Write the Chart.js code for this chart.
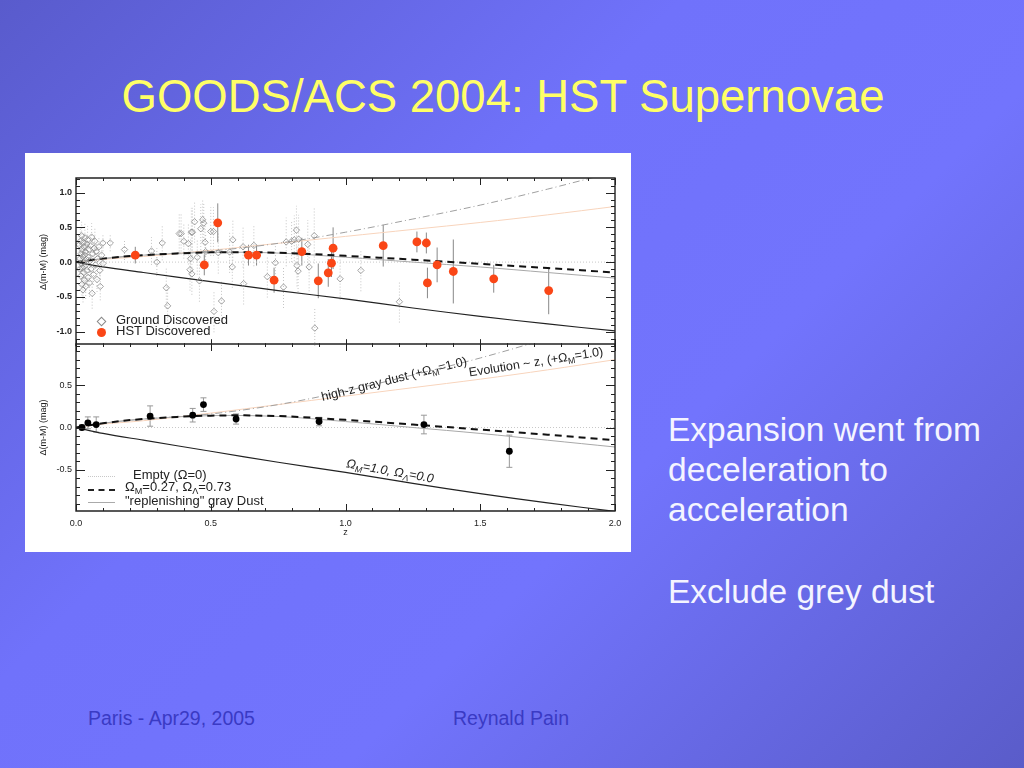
<!DOCTYPE html>
<html>
<head>
<meta charset="utf-8">
<script src="https://cdn.jsdelivr.net/npm/chart.js@4.4.0/dist/chart.umd.min.js"></script>
<style>
  html, body { margin: 0; padding: 0; }
  #slide {
    position: relative; width: 1024px; height: 768px; overflow: hidden;
    background: linear-gradient(135deg, #595bcc 0%, #7072fb 38%, #7274fd 62%, #5a5cc9 100%);
    font-family: "Liberation Sans", Arial, Helvetica, sans-serif;
  }
  .abs { position: absolute; white-space: nowrap; }
  #title { left: 0; width: 1006px; top: 70px; text-align: center; color: #ffff66; font-size: 45.5px; line-height: 54px; }
  #panel { left: 25px; top: 153px; width: 606px; height: 399px; background: #fff; }
  #topChart { position: absolute; left: 25px; top: 153px; }
  #bottomChart { position: absolute; left: 25px; top: 340px; }
  .side { left: 668px; color: #f4f4ff; font-size: 33.5px; line-height: 40px; }
  .foot { top: 706px; color: #3a3ac4; font-size: 19.5px; line-height: 24px; }
  .leg { font-size: 13px; line-height: 14px; color: #222; }
  .note { font-size: 12.5px; color: #222; transform-origin: center; }
  sub { font-size: 70%; vertical-align: -3px; line-height: 0; }
  .diamond { width: 5px; height: 5px; border: 1px solid #888; background: #fff; transform: rotate(45deg); }
  .dot { width: 9px; height: 9px; border-radius: 50%; background: #fa4616; }
</style>
</head>
<body>
<div id="slide">
  <div id="title" class="abs">GOODS/ACS 2004: HST Supernovae</div>
  <div id="panel" class="abs"></div>
  <canvas id="topChart" width="606" height="198"></canvas>
  <canvas id="bottomChart" width="606" height="212"></canvas>

  <div class="abs diamond" style="left:98px; top:318px;"></div>
  <div class="abs leg" style="left:116px; top:313px;">Ground Discovered</div>
  <div class="abs dot" style="left:97px; top:328px;"></div>
  <div class="abs leg" style="left:116px; top:324px;">HST Discovered</div>

  <div class="abs" style="left:88px; top:476px; width:27px; border-top:1px dotted #c8c8c8;"></div>
  <div class="abs" style="left:88px; top:489px; width:27px; border-top:2px dashed #222;"></div>
  <div class="abs" style="left:88px; top:502px; width:27px; border-top:1px solid #aaa;"></div>
  <div class="abs leg" style="left:133px; top:468px;">Empty (&Omega;=0)</div>
  <div class="abs leg" style="left:125px; top:480px;">&Omega;<sub>M</sub>=0.27, &Omega;<sub>&Lambda;</sub>=0.73</div>
  <div class="abs leg" style="left:125px; top:494px;">"replenishing" gray Dust</div>

  <div class="abs note" style="left:394px; top:379px; transform: translate(-50%,-50%) rotate(-14deg);">high-z gray dust (+&Omega;<sub>M</sub>=1.0)</div>
  <div class="abs note" style="left:536px; top:362px; transform: translate(-50%,-50%) rotate(-9deg);">Evolution ~ z, (+&Omega;<sub>M</sub>=1.0)</div>
  <div class="abs note" style="left:390px; top:471px; font-style: italic; transform: translate(-50%,-50%) rotate(10deg);">&Omega;<sub>M</sub>=1.0, &Omega;<sub>&Lambda;</sub>=0.0</div>

  <div class="abs side" style="top:410px;">Expansion went from<br>deceleration to<br>acceleration</div>
  <div class="abs side" style="top:572px;">Exclude grey dust</div>

  <div class="abs foot" style="left:88px;">Paris - Apr29, 2005</div>
  <div class="abs foot" style="left:453px;">Reynald Pain</div>
</div>

<script>
// ground discovered SNe (low-z cluster first, then the rest)
const groundZ = [
  0.012,0.014,0.015,0.016,0.018,0.019,0.02,0.021,0.022,0.023,
  0.024,0.025,0.026,0.027,0.028,0.029,0.03,0.031,0.032,0.033,
  0.034,0.035,0.036,0.038,0.04,0.041,0.043,0.045,0.046,0.048,
  0.05,0.052,0.054,0.056,0.058,0.06,0.062,0.065,0.068,0.07,
  0.072,0.075,0.078,0.08,0.085,0.088,0.09,0.095,0.1,
  0.10,0.127,0.18,0.28,0.30,0.32,0.335,0.34,0.383,0.39,
  0.40,0.417,0.423,0.428,0.432,0.43,0.425,0.44,0.45,0.458,
  0.463,0.47,0.474,0.479,0.481,0.50,0.51,0.512,0.528,0.54,
  0.57,0.58,0.582,0.62,0.622,0.66,0.71,0.74,0.77,0.78,
  0.80,0.81,0.818,0.82,0.824,0.826,0.86,0.865,0.886,0.884,
  0.98,1.057,1.20
];
const groundDm = [
  0.25,-0.10,0.05,0.30,-0.20,0.12,-0.02,0.38,-0.32,0.18,
  -0.08,0.08,-0.40,0.28,0.0,-0.15,0.22,-0.26,0.10,0.35,
  -0.05,0.15,-0.35,0.04,0.26,-0.12,0.32,-0.22,0.07,0.18,
  -0.30,0.02,0.24,-0.10,0.36,-0.45,0.12,-0.18,0.20,0.30,
  -0.04,0.15,-0.25,0.05,0.22,-0.12,-0.35,0.10,-0.02,
  0.275,0.275,0.18,0.16,0.0,0.275,-0.37,-0.63,0.41,0.41,
  0.30,0.265,-0.11,0.43,0.43,-0.17,0.05,0.58,0.07,-0.27,
  0.48,0.61,0.56,0.285,0.15,0.44,0.44,-0.71,0.135,-0.56,
  0.145,-0.07,0.32,0.22,-0.31,0.24,-0.21,-0.01,-0.36,0.29,
  0.30,0.32,0.46,-0.05,-0.13,0.33,0.255,-0.07,-0.95,0.38,
  -0.24,-0.12,-0.57
];
const groundErr = [
  0.15,0.12,0.10,0.18,0.14,0.12,0.10,0.20,0.16,0.12,
  0.10,0.10,0.18,0.15,0.10,0.12,0.14,0.16,0.10,0.20,
  0.10,0.12,0.18,0.10,0.14,0.12,0.20,0.15,0.10,0.12,
  0.20,0.10,0.15,0.12,0.20,0.22,0.12,0.15,0.14,0.18,
  0.10,0.12,0.18,0.10,0.15,0.12,0.20,0.12,0.10,
  0.12,0.12,0.15,0.2,0.2,0.25,0.3,0.3,0.3,0.3,
  0.25,0.3,0.3,0.35,0.35,0.3,0.3,0.3,0.25,0.3,
  0.35,0.3,0.3,0.3,0.25,0.35,0.35,0.3,0.3,0.3,
  0.3,0.3,0.3,0.3,0.3,0.3,0.3,0.25,0.3,0.35,
  0.3,0.35,0.35,0.3,0.3,0.35,0.35,0.35,0.3,0.4,
  0.3,0.3,0.3
];

// HST discovered SNe
const hstZ   = [0.22,0.476,0.526,0.64,0.67,0.735,0.838,0.899,0.936,0.948,0.954,1.14,1.265,1.30,1.304,1.34,1.40,1.55,1.754];
const hstDm  = [0.10,-0.04,0.565,0.10,0.10,-0.26,0.15,-0.27,-0.155,-0.015,0.20,0.236,0.29,0.275,-0.30,-0.04,-0.135,-0.24,-0.41];
const hstErr = [0.12,0.15,0.28,0.15,0.15,0.18,0.20,0.25,0.20,0.20,0.30,0.30,0.15,0.15,0.22,0.25,0.46,0.20,0.34];

// binned points (lower panel)
const binZ   = [0.022,0.044,0.075,0.275,0.433,0.473,0.594,0.902,1.291,1.608];
const binDm  = [0.0,0.055,0.035,0.135,0.145,0.27,0.10,0.07,0.035,-0.28];
const binErr = [0.03,0.07,0.09,0.12,0.08,0.08,0.06,0.05,0.11,0.19];

// model curves
const modelZ     = [0,0.1,0.25,0.5,0.75,1.0,1.25,1.5,1.75,2.0];
const lcdm       = [0,0.05,0.10,0.14,0.135,0.09,0.035,-0.025,-0.085,-0.15];
const grayDust   = [0,0.05,0.10,0.14,0.13,0.07,0.0,-0.07,-0.15,-0.23];
const omegaM1    = [0,-0.07,-0.15,-0.28,-0.41,-0.53,-0.66,-0.78,-0.89,-0.99];
const highZDust  = [0,0.05,0.10,0.16,0.27,0.43,0.62,0.82,1.05,1.30];
const evolution  = [0,0.04,0.08,0.17,0.27,0.37,0.47,0.57,0.68,0.80];
const emptyModel = [0,0,0,0,0,0,0,0,0,0];

const xTicks = [0,0.5,1.0,1.5,2.0];
const yTicksTop = [-1.0,-0.5,0.0,0.5,1.0];
const yTicksBottom = [-0.5,0.0,0.5];

const pts = (xs, ys) => xs.map((v, i) => ({x: v, y: ys[i]}));

// error bars + IDL-style box with inward ticks
const frame = {
  id: 'frame',
  beforeDatasetsDraw(chart) {
    const {ctx, chartArea, scales: {x, y}} = chart;
    ctx.save();
    ctx.beginPath();
    ctx.rect(chartArea.left, chartArea.top, chartArea.right - chartArea.left, chartArea.bottom - chartArea.top);
    ctx.clip();
    chart.data.datasets.forEach(ds => {
      if (!ds.errors) return;
      ctx.strokeStyle = ds.errorColor;
      ctx.lineWidth = 1;
      ctx.setLineDash(ds.errorDash || []);
      ds.data.forEach((p, i) => {
        const px = x.getPixelForValue(p.x);
        const y1 = y.getPixelForValue(p.y - ds.errors[i]);
        const y2 = y.getPixelForValue(p.y + ds.errors[i]);
        ctx.beginPath();
        ctx.moveTo(px, y1); ctx.lineTo(px, y2);
        if (ds.errorCap) {
          ctx.moveTo(px - 3, y1); ctx.lineTo(px + 3, y1);
          ctx.moveTo(px - 3, y2); ctx.lineTo(px + 3, y2);
        }
        ctx.stroke();
      });
    });
    ctx.restore();
  },
  afterDraw(chart, args, opts) {
    const {ctx, chartArea: {left, right, top, bottom}, scales: {x, y}} = chart;
    ctx.save();
    ctx.strokeStyle = '#222';
    ctx.lineWidth = 1.4;
    ctx.beginPath();
    if (opts.openBottom) {
      // lower edge is shared with the panel below
      ctx.moveTo(left, bottom); ctx.lineTo(left, top); ctx.lineTo(right, top); ctx.lineTo(right, bottom);
    } else {
      ctx.rect(left, top, right - left, bottom - top);
    }
    ctx.stroke();
    ctx.lineWidth = 1;
    ctx.beginPath();
    for (let v = Math.ceil(y.min * 10); v <= Math.floor(y.max * 10); v++) {
      const py = Math.round(y.getPixelForValue(v / 10)) + 0.5;
      const len = v % 5 === 0 ? 9 : 4;
      ctx.moveTo(left, py); ctx.lineTo(left + len, py);
      ctx.moveTo(right, py); ctx.lineTo(right - len, py);
    }
    for (let v = 0; v <= 20; v++) {
      const px = Math.round(x.getPixelForValue(v / 10)) + 0.5;
      const len = v % 5 === 0 ? 7 : 3;
      ctx.moveTo(px, top); ctx.lineTo(px, top + len);
      ctx.moveTo(px, bottom); ctx.lineTo(px, bottom - len);
    }
    ctx.stroke();
    ctx.restore();
  }
};

function noPad(s) {
  s.paddingTop = 0; s.paddingBottom = 0; s.paddingLeft = 0; s.paddingRight = 0;
}

function modelSets(withData) {
  return [
    {label: 'LCDM', data: pts(modelZ, lcdm), showLine: true, pointRadius: 0, borderColor: '#111', borderWidth: 2, borderDash: [7, 5], tension: 0.35, order: 2},
    {label: 'Gray dust', data: pts(modelZ, grayDust), showLine: true, pointRadius: 0, borderColor: '#a8a8a8', borderWidth: 1, tension: 0.35, order: 3},
    {label: 'OmegaM1', data: pts(modelZ, omegaM1), showLine: true, pointRadius: 0, borderColor: '#222', borderWidth: 1.2, tension: 0.35, order: 3},
    {label: 'High-z dust', data: pts(modelZ, highZDust), showLine: true, pointRadius: 0, borderColor: '#a0a0a0', borderWidth: 1, borderDash: [7, 3, 1, 3], tension: 0.35, order: 4},
    {label: 'Evolution', data: pts(modelZ, evolution), showLine: true, pointRadius: 0, borderColor: '#f8d4bc', borderWidth: 1, tension: 0.35, order: 4},
    {label: 'Empty', data: pts(modelZ, emptyModel), showLine: true, pointRadius: 0, borderColor: '#c8c8c8', borderWidth: 1, borderDash: [1, 2], order: 5}
  ].concat(withData);
}

const tickFont = {family: '"Liberation Sans", Arial, sans-serif', size: 9};

new Chart(document.getElementById('topChart'), {
  type: 'scatter',
  data: {
    datasets: modelSets([
      {label: 'Ground Discovered', data: pts(groundZ, groundDm), errors: groundErr, errorColor: '#c4c4c4', errorDash: [1, 2],
       pointStyle: 'rectRot', pointRadius: 3.2, borderColor: '#8c8c8c', backgroundColor: 'rgba(255,255,255,0)', borderWidth: 0.8, order: 1},
      {label: 'HST Discovered', data: pts(hstZ, hstDm), errors: hstErr, errorColor: '#888',
       pointRadius: 4.4, backgroundColor: '#fa4616', borderColor: '#fa4616', borderWidth: 0, order: 0}
    ])
  },
  options: {
    responsive: false, animation: false, events: [],
    layout: {padding: {left: 0, right: 16, top: 25, bottom: 0}},
    plugins: {legend: {display: false}, tooltip: {enabled: false}, frame: {openBottom: true}},
    scales: {
      x: {type: 'linear', display: false, min: 0, max: 2},
      y: {
        type: 'linear', min: -1.21, max: 1.21,
        grid: {display: false, drawTicks: false}, border: {display: false},
        afterBuildTicks: s => { s.ticks = yTicksTop.map(v => ({value: v})); },
        afterFit: s => { s.width = 51; noPad(s); },
        ticks: {padding: 4, color: '#222', font: {...tickFont, weight: 'bold'}, callback: v => v.toFixed(1)},
        title: {display: true, text: '\u0394(m-M) (mag)', color: '#222', font: tickFont, padding: {top: 13, bottom: 0}}
      }
    }
  },
  plugins: [frame]
});

new Chart(document.getElementById('bottomChart'), {
  type: 'scatter',
  data: {
    datasets: modelSets([
      {label: 'Binned', data: pts(binZ, binDm), errors: binErr, errorColor: '#999', errorCap: true,
       pointRadius: 3.4, backgroundColor: '#000', borderColor: '#000', borderWidth: 0, order: 0}
    ])
  },
  options: {
    responsive: false, animation: false, events: [],
    layout: {padding: {left: 0, right: 16, top: 0, bottom: 0}},
    plugins: {legend: {display: false}, tooltip: {enabled: false}},
    scales: {
      x: {
        type: 'linear', min: 0, max: 2,
        grid: {display: false, drawTicks: false}, border: {display: false},
        afterBuildTicks: s => { s.ticks = xTicks.map(v => ({value: v})); },
        afterFit: s => { s.height = 41; noPad(s); },
        ticks: {padding: 7, color: '#222', font: tickFont, maxRotation: 0, callback: v => v.toFixed(1)},
        title: {display: true, text: 'z', color: '#222', font: tickFont, padding: {top: 0, bottom: 14}}
      },
      y: {
        type: 'linear', min: -0.985, max: 0.985,
        grid: {display: false, drawTicks: false}, border: {display: false},
        afterBuildTicks: s => { s.ticks = yTicksBottom.map(v => ({value: v})); },
        afterFit: s => { s.width = 51; noPad(s); },
        ticks: {padding: 4, color: '#222', font: tickFont, callback: v => v.toFixed(1)},
        title: {display: true, text: '\u0394(m-M) (mag)', color: '#222', font: tickFont, padding: {top: 13, bottom: 0}}
      }
    }
  },
  plugins: [frame]
});
</script>
</body>
</html>
